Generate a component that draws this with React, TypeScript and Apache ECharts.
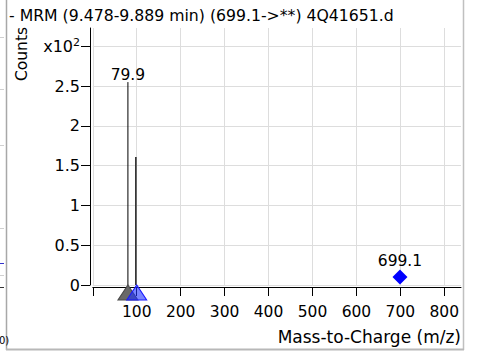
import React, { useEffect, useRef } from "react";
import * as echarts from "echarts";

const titleText = "- MRM (9.478-9.889 min) (699.1->**) 4Q41651.d";
const xName = "Mass-to-Charge (m/z)";
const yName = "Counts";

// stick spectrum (m/z, counts)
const stickMz = [79.9, 98];
const stickCounts = [255, 161];
const stickLabels = ["79.9", ""];
const stickColors = ["#000000", "#2a2a2a"];
const stickWidths = [1, 1.6];

// precursor / product markers on the baseline
const markerMz = [79.9, 100];
const markerFill = ["rgba(105,105,105,1)", "rgba(30,50,255,0.6)"];
const markerStroke = ["#4a4a4a", "#1a1aff"];

// precursor diamond
const precursorMz = [699.1];
const precursorCounts = [10];
const precursorLabels = ["699.1"];

const xTicks = [0, 100, 200, 300, 400, 500, 600, 700, 800];
const xTickLabels = [100, 200, 300, 400, 500, 600, 700, 800];
const yTicks = [0, 50, 100, 150, 200, 250, 300];

const FONT = "DejaVu Sans";

export default function App() {
  const ref = useRef<HTMLDivElement>(null);
  useEffect(() => {
    if (!ref.current) return;
    const chart = echarts.init(ref.current, null, { renderer: "svg" });
    const leftMarks = [
      { y: 37, c: "#d0d0d0" },
      { y: 89, c: "#d0d0d0" },
      { y: 145, c: "#d0d0d0" },
      { y: 228, c: "#d0d0d0" },
      { y: 263, c: "#3333cc" },
      { y: 275, c: "#d0d0d0" },
      { y: 287, c: "#333333" },
    ];
    chart.setOption({
      animation: false,
      backgroundColor: "#ffffff",
      textStyle: { fontFamily: FONT },
      grid: { left: 92.8, right: 18, top: 28, bottom: 68, containLabel: false },
      xAxis: {
        type: "value",
        min: 0,
        max: 838,
        interval: 100,
        offset: 2,
        axisLine: { show: true, onZero: false, lineStyle: { color: "#000", width: 1 } },
        axisTick: { show: true, length: 9, customValues: xTicks, lineStyle: { color: "#000" } },
        axisLabel: {
          customValues: xTickLabels,
          color: "#000",
          fontSize: 15.5,
          fontFamily: FONT,
          margin: 17,
        },
        splitLine: { show: true, lineStyle: { color: "#dddddd", width: 1 } },
      },
      yAxis: {
        type: "value",
        min: 0,
        max: 323,
        interval: 50,
        offset: 2.8,
        axisLine: { show: true, onZero: false, lineStyle: { color: "#000", width: 1 } },
        axisTick: { show: true, length: 9, customValues: yTicks, lineStyle: { color: "#000" } },
        axisLabel: {
          customValues: yTicks,
          color: "#000",
          fontSize: 16,
          fontFamily: FONT,
          margin: 10,
          formatter: (v: number) => (v === 300 ? "{a|x10}{s|2}" : String(v / 100)),
          rich: {
            a: { fontSize: 16, fontFamily: FONT, color: "#000" },
            s: { fontSize: 11, fontFamily: FONT, color: "#000", verticalAlign: "top", padding: [0, 0, 8, 0] },
          },
        },
        splitLine: { show: true, lineStyle: { color: "#dddddd", width: 1 } },
      },
      series: [
        {
          type: "custom",
          clip: false,
          z: 3,
          data: stickMz.map((m, i) => [m, stickCounts[i], i]),
          renderItem: (params: any, api: any) => {
            const x = api.value(0);
            const y = api.value(1);
            const i = api.value(2);
            const p0 = api.coord([x, 0]);
            const p1 = api.coord([x, y]);
            const children: any[] = [
              {
                type: "line",
                shape: { x1: p0[0], y1: p0[1], x2: p1[0], y2: p1[1] },
                style: { stroke: stickColors[i], lineWidth: stickWidths[i] },
              },
            ];
            if (stickLabels[i]) {
              children.push({
                type: "text",
                style: {
                  text: stickLabels[i],
                  x: p1[0],
                  y: p1[1] + 1,
                  align: "center",
                  verticalAlign: "bottom",
                  fontSize: 15.5,
                  fontFamily: FONT,
                  fill: "#000",
                },
              });
            }
            return { type: "group", children };
          },
        },
        {
          type: "scatter",
          clip: false,
          z: 4,
          symbol: "triangle",
          symbolSize: [20, 15],
          symbolOffset: [0, 7.5],
          data: markerMz.map((m, i) => ({
            value: [m, 0],
            itemStyle: { color: markerFill[i], borderColor: markerStroke[i], borderWidth: 1, opacity: 1 },
          })),
        },
        {
          type: "scatter",
          clip: false,
          z: 4,
          symbol: "diamond",
          symbolSize: [15, 15],
          itemStyle: { color: "#0000ff", opacity: 1 },
          label: {
            show: true,
            position: "top",
            distance: 1,
            color: "#000",
            fontSize: 15.5,
            fontFamily: FONT,
            formatter: (p: any) => precursorLabels[p.dataIndex],
          },
          data: precursorMz.map((m, i) => [m, precursorCounts[i]]),
        },
      ],
      graphic: [
        { type: "line", shape: { x1: 6.5, y1: 0, x2: 6.5, y2: 350 }, style: { stroke: "#a8a8a8", lineWidth: 1.5 } },
        { type: "line", shape: { x1: 463.5, y1: 0, x2: 463.5, y2: 350 }, style: { stroke: "#c0c0c0", lineWidth: 1.5 } },
        { type: "line", shape: { x1: 6, y1: 349.5, x2: 464, y2: 349.5 }, style: { stroke: "#b8b8b8", lineWidth: 2 } },
        ...leftMarks.map((m) => ({
          type: "line",
          shape: { x1: 0, y1: m.y + 0.5, x2: 4, y2: m.y + 0.5 },
          style: { stroke: m.c, lineWidth: 1 },
        })),
        {
          type: "text",
          x: -1,
          y: 340,
          style: { text: "0)", fontSize: 10, fontFamily: FONT, fill: "#000", verticalAlign: "middle", align: "left" },
        },
        {
          type: "text",
          x: 9,
          y: 15,
          style: { text: titleText, fontSize: 15.7, fontFamily: FONT, fill: "#000", verticalAlign: "middle", align: "left" },
        },
        {
          type: "text",
          x: 22,
          y: 54,
          rotation: Math.PI / 2,
          style: { text: yName, fontSize: 15.5, fontFamily: FONT, fill: "#000", verticalAlign: "middle", align: "center" },
        },
        {
          type: "text",
          x: 461,
          y: 337,
          style: { text: xName, fontSize: 17, fontFamily: FONT, fill: "#000", verticalAlign: "middle", align: "right" },
        },
      ],
    });
    return () => chart.dispose();
  }, []);
  return (
    <div
      ref={ref}
      style={{ position: "fixed", left: 0, top: 0, width: 479, height: 353, background: "#fff" }}
    />
  );
}
